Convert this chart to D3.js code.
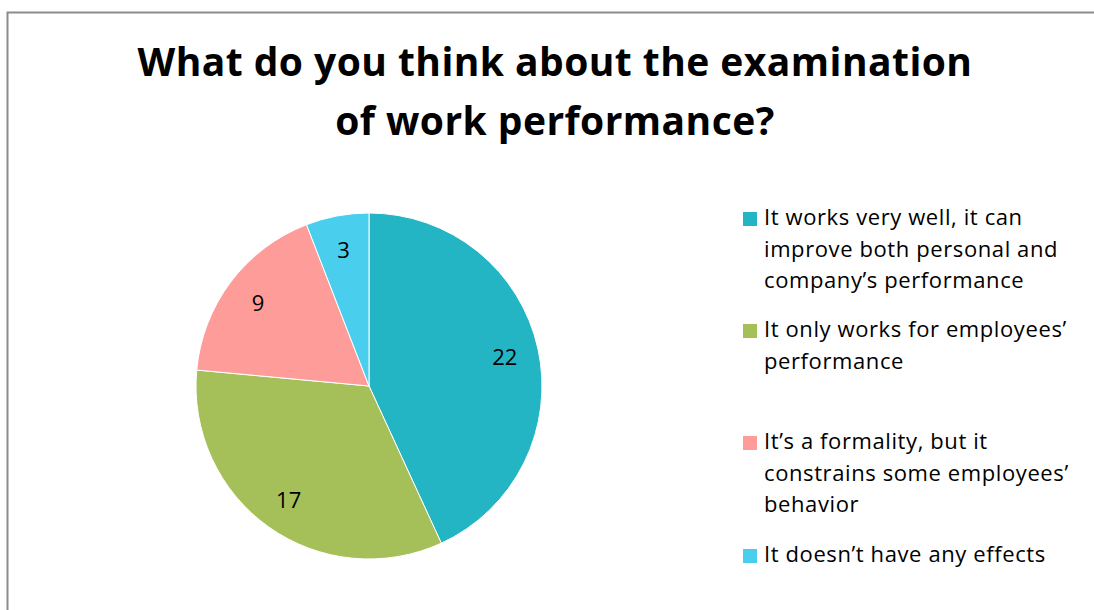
<!DOCTYPE html>
<html>
<head>
<meta charset="utf-8">
<script src="https://cdn.jsdelivr.net/npm/d3@7"></script>
<style>
  html, body { margin: 0; padding: 0; background: #fff; }
  svg { display: block; }
</style>
</head>
<body>
<svg id="chart" width="1094" height="610"></svg>
<script>
// Survey answers and their counts
const categories = [
  "It works very well, it can improve both personal and company\u2019s performance",
  "It only works for employees\u2019 performance",
  "It\u2019s a formality, but it constrains some employees\u2019 behavior",
  "It doesn\u2019t have any effects"
];
const counts = [22, 17, 9, 3];
const colors = ["#23B5C4", "#A5BF59", "#FE9C9A", "#49CEEE"];
// Legend text wrapped into lines
const legendLines = [
  ["It works very well, it can", "improve both personal and", "company\u2019s performance"],
  ["It only works for employees\u2019", "performance"],
  ["It\u2019s a formality, but it", "constrains some employees\u2019", "behavior"],
  ["It doesn\u2019t have any effects"]
];
const titleLines = ["What do you think about the examination", "of work performance?"];

const FONT = "'Open Sans', Carlito, Calibri, sans-serif";
const svg = d3.select("#chart");

// Chart area frame (extends past the right and bottom edges)
svg.append("rect")
  .attr("x", 7.5).attr("y", 12.5)
  .attr("width", 1200).attr("height", 700)
  .attr("fill", "#fff")
  .attr("stroke", "#8c8c8c")
  .attr("stroke-width", 2);

// Title
svg.append("g").selectAll("text")
  .data(titleLines)
  .join("text")
  .attr("x", 555)
  .attr("y", (d, i) => 76 + i * 59)
  .attr("text-anchor", "middle")
  .attr("font-family", FONT)
  .attr("font-weight", "bold")
  .attr("font-size", 39)
  .attr("letter-spacing", 0.45)
  .attr("fill", "#000")
  .text(d => d);

// Pie
const cx = 369, cy = 386, R = 173;
const data = categories.map((c, i) => ({ name: c, value: counts[i], color: colors[i] }));
const pie = d3.pie().value(d => d.value).sort(null);
const arc = d3.arc().innerRadius(0).outerRadius(R);
const labelArc = d3.arc().innerRadius(139).outerRadius(139);

const g = svg.append("g").attr("transform", `translate(${cx},${cy})`);
const arcs = pie(data);
g.selectAll("path")
  .data(arcs)
  .join("path")
  .attr("d", arc)
  .attr("fill", d => d.data.color)
  .attr("stroke", "#fff")
  .attr("stroke-width", 1);

g.selectAll("text")
  .data(arcs)
  .join("text")
  .attr("transform", d => `translate(${labelArc.centroid(d)})`)
  .attr("text-anchor", "middle")
  .attr("dominant-baseline", "central")
  .attr("font-family", FONT)
  .attr("font-size", 22)
  .attr("fill", "#000")
  .text(d => d.data.value);

// Legend
const legendBaselines = [225, 337, 449, 562];
const lineStep = 31.5;
const legend = svg.append("g");
legendLines.forEach((lines, i) => {
  legend.append("rect")
    .attr("x", 743).attr("y", legendBaselines[i] - 13)
    .attr("width", 14).attr("height", 14)
    .attr("fill", colors[i]);
  legend.append("g").selectAll("text")
    .data(lines)
    .join("text")
    .attr("x", 764)
    .attr("y", (d, j) => legendBaselines[i] + j * lineStep)
    .attr("font-family", FONT)
    .attr("font-size", 22)
    .attr("letter-spacing", 0.6)
    .attr("fill", "#000")
    .text(d => d);
});
</script>
</body>
</html>
